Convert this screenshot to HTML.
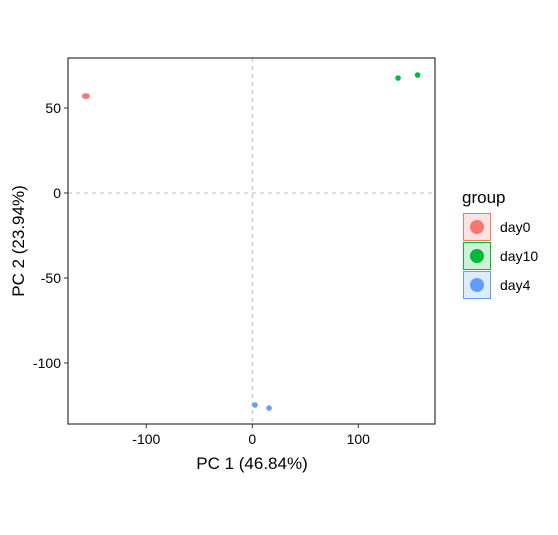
<!DOCTYPE html>
<html><head><meta charset="utf-8"><style>body{margin:0;background:#fff}text{font-family:"Liberation Sans",Arial,sans-serif}</style></head>
<body>
<svg id="c" width="558" height="530" xmlns="http://www.w3.org/2000/svg"></svg>
<script>
const groups=["day0","day0","day10","day10","day4","day4"];
const pc1=[-158,-156,137.5,156,2.5,15.8];
const pc2=[57,57,67.6,69.4,-124.7,-126.5];
const xTicks=[-100,0,100];
const yTicks=[50,0,-50,-100];
const legendGroups=["day0","day10","day4"];
const colors={day0:"#F8766D",day10:"#00BA38",day4:"#619CFF"};
const fills={day0:"#fde3e1",day10:"#ccf1d7",day4:"#dfebff"};
const NS="http://www.w3.org/2000/svg";
const svg=document.getElementById('c');
const L=68,T=58,R=435,B=424;
const sx=v=>252.3+v*1.06, sy=v=>193-v*1.7;
function el(t,a,p){const e=document.createElementNS(NS,t);for(const k in a)e.setAttribute(k,a[k]);(p||svg).appendChild(e);return e;}
let g;
g=el('line',{x1:sx(0),x2:sx(0),y1:T,y2:B,stroke:'#bbb','stroke-dasharray':'4,4'});


g=el('line',{x1:L,x2:R,y1:sy(0),y2:sy(0),stroke:'#bbb','stroke-dasharray':'4,4'});


pc1.forEach((v,i)=>{const c=el('circle',{cx:sx(v),cy:sy(pc2[i]),r:2.8,fill:colors[groups[i]]});

});
g=el('rect',{x:L,y:T,width:R-L,height:B-T,fill:'none',stroke:'#333','stroke-width':1.2});


xTicks.forEach(v=>{el('line',{x1:sx(v),x2:sx(v),y1:B,y2:B+4,stroke:'#333'});
const t=el('text',{x:sx(v),y:B+20,'text-anchor':'middle','font-size':14,fill:'#000'});t.textContent=v;

});
yTicks.forEach(v=>{el('line',{x1:L-4,x2:L,y1:sy(v),y2:sy(v),stroke:'#333'});
const t=el('text',{x:L-7,y:sy(v)+5,'text-anchor':'end','font-size':14,fill:'#000'});t.textContent=v;

});
g=el('text',{x:252,y:469,'text-anchor':'middle','font-size':17});g.textContent='PC 1 (46.84%)';


g=el('text',{transform:'translate(24,241) rotate(-90)','text-anchor':'middle','font-size':17});g.textContent='PC 2 (23.94%)';


g=el('text',{x:462,y:203,'font-size':17});g.textContent='group';


legendGroups.forEach((k,i)=>{const y=213+i*29;
const r=el('rect',{x:463.5,y:y+0.5,width:27,height:27,fill:fills[k],stroke:colors[k]});


el('circle',{cx:477,cy:y+14,r:7,fill:colors[k]});
const t=el('text',{x:500,y:y+19,'font-size':14});t.textContent=k;

});
</script>
</body></html>
